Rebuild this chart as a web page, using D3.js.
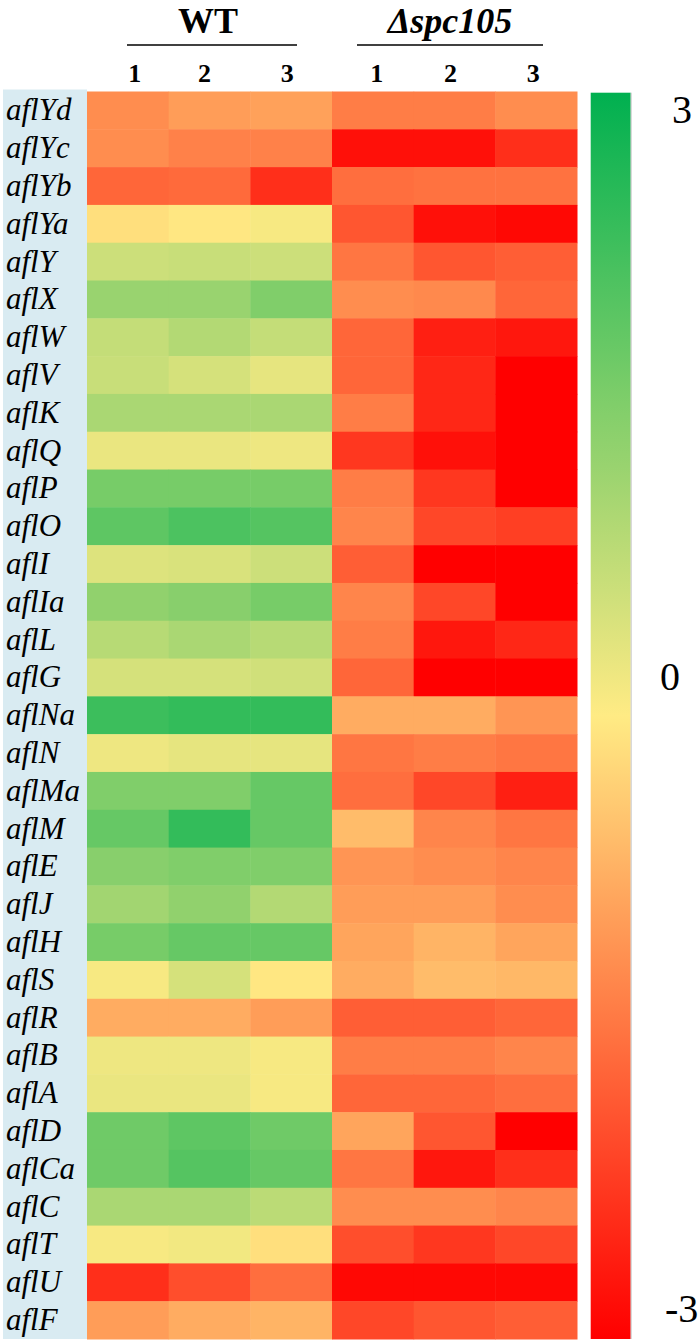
<!DOCTYPE html>
<html>
<head>
<meta charset="utf-8">
<script src="https://cdn.jsdelivr.net/npm/d3@7"></script>
<style>
  html, body { margin: 0; padding: 0; background: #fff; }
  svg { display: block; }
</style>
</head>
<body>
<script>
// ---------- data ----------
const genes = ["aflYd","aflYc","aflYb","aflYa","aflY","aflX","aflW","aflV","aflK","aflQ","aflP","aflO","aflI","aflIa","aflL","aflG","aflNa","aflN","aflMa","aflM","aflE","aflJ","aflH","aflS","aflR","aflB","aflA","aflD","aflCa","aflC","aflT","aflU","aflF"];
const columns = ["WT-1","WT-2","WT-3","spc-1","spc-2","spc-3"];
const columnLabels = ["1","2","3","1","2","3"];
const groups = ["WT","Δspc105"];
const wt1  = [-1.2,-1.2,-1.7,-0.15,0.6,1.2,0.7,0.65,1.0,0.25,1.6,1.9,0.4,1.3,0.85,0.5,2.3,0.2,1.5,1.8,1.4,1.1,1.6,0.1,-0.8,0.2,0.25,1.7,1.7,1.0,0.1,-2.4,-1.0];
const wt2  = [-1.0,-1.35,-1.65,-0.05,0.65,1.2,0.9,0.5,1.0,0.25,1.6,2.1,0.45,1.4,1.0,0.5,2.4,0.3,1.5,2.4,1.5,1.3,1.8,0.5,-0.8,0.2,0.25,1.9,2.0,1.0,0.15,-2.0,-0.8];
const wt3  = [-0.95,-1.35,-2.4,0.1,0.6,1.5,0.7,0.3,1.0,0.2,1.6,2.0,0.6,1.6,0.85,0.55,2.4,0.3,1.8,1.8,1.5,0.9,1.8,-0.05,-1.0,0.1,0.1,1.7,1.8,0.8,-0.15,-1.6,-0.7];
const spc1 = [-1.4,-2.8,-1.6,-1.9,-1.5,-1.2,-1.7,-1.7,-1.4,-2.3,-1.4,-1.3,-1.8,-1.3,-1.4,-1.7,-0.8,-1.5,-1.6,-0.6,-1.1,-1.0,-0.9,-0.8,-1.8,-1.4,-1.7,-0.9,-1.5,-1.2,-2.0,-2.9,-2.1];
const spc2 = [-1.4,-2.8,-1.55,-2.8,-1.9,-1.25,-2.6,-2.5,-2.5,-2.8,-2.3,-2.1,-3.0,-2.1,-2.7,-3.0,-0.8,-1.4,-2.1,-1.3,-1.2,-1.0,-0.7,-0.6,-1.8,-1.4,-1.7,-1.9,-2.7,-1.2,-2.3,-2.9,-1.9];
const spc3 = [-1.2,-2.4,-1.55,-2.9,-1.8,-1.7,-2.7,-3.0,-3.0,-3.0,-3.0,-2.2,-3.0,-3.0,-2.5,-3.0,-1.1,-1.5,-2.6,-1.5,-1.3,-1.2,-0.9,-0.65,-1.7,-1.3,-1.6,-3.0,-2.4,-1.3,-2.1,-2.9,-1.8];
const series = [wt1, wt2, wt3, spc1, spc2, spc3];
const legendTicks = [3, 0, -3];
const colorDomain = [-3, 0, 3];
const colorRange = ["#ff0000", "#ffeb84", "#00b050"];

// ---------- layout ----------
const W = 700, H = 1343;
const svg = d3.select("body").append("svg").attr("width", W).attr("height", H);

const serif = "'Liberation Serif','Times New Roman',serif";
const gridTop = 91.5, gridBot = 1339;
const x = d3.scaleBand().domain(columns).range([87, 577]).padding(0);
const y = d3.scaleBand().domain(genes).range([gridTop, gridBot]).padding(0);
const color = d3.scaleLinear().domain(colorDomain).range(colorRange).interpolate(d3.interpolateRgb).clamp(true);

// label background
svg.append("rect").attr("x", 3).attr("y", gridTop - 2).attr("width", 84).attr("height", gridBot - gridTop + 2)
  .attr("fill", "#d9ebf2");

// cells
const cells = [];
genes.forEach((g, i) => columns.forEach((c, j) => cells.push({ gene: g, col: c, v: series[j][i] })));
svg.append("g").selectAll("rect").data(cells).join("rect")
  .attr("x", d => x(d.col))
  .attr("y", d => y(d.gene))
  .attr("width", x.bandwidth() + 0.5)
  .attr("height", y.bandwidth() + 0.5)
  .attr("fill", d => color(d.v));

// row labels
svg.append("g").selectAll("text").data(genes).join("text")
  .attr("x", 6)
  .attr("y", d => y(d) + y.bandwidth() / 2 + 10)
  .attr("font-family", serif).attr("font-style", "italic").attr("font-size", 31)
  .attr("fill", "#000")
  .text(d => d);

// column numbers
const numShift = [7, -5, -4, 4, -4, -3];
svg.append("g").selectAll("text").data(columns).join("text")
  .attr("x", (d, i) => x(d) + x.bandwidth() / 2 + numShift[i])
  .attr("y", 82)
  .attr("text-anchor", "middle")
  .attr("font-family", serif).attr("font-weight", "bold").attr("font-size", 26)
  .attr("fill", "#000")
  .text((d, i) => columnLabels[i]);

// group headers and lines
const groupSpans = [[127, 297], [357, 543]];
groups.forEach((g, k) => {
  const [a, b] = groupSpans[k];
  svg.append("line").attr("x1", a).attr("x2", b).attr("y1", 45).attr("y2", 45)
    .attr("stroke", "#000").attr("stroke-width", 1.5);
  svg.append("text")
    .attr("x", (a + b) / 2 + (k === 0 ? -4 : 0)).attr("y", 33)
    .attr("text-anchor", "middle")
    .attr("font-family", serif).attr("font-weight", "bold")
    .attr("font-style", k === 1 ? "italic" : "normal")
    .attr("font-size", 36).attr("fill", "#000")
    .text(g);
});

// colour bar
const lgTop = 92.7, lgBot = 1339, lgX = 590.7, lgW = 40;
const ly = d3.scaleLinear().domain([3, -3]).range([lgTop, lgBot]);
const defs = svg.append("defs");
const grad = defs.append("linearGradient").attr("id", "lg").attr("x1", 0).attr("y1", 0).attr("x2", 0).attr("y2", 1);
d3.range(0, 1.0001, 0.05).forEach(t => {
  grad.append("stop").attr("offset", t).attr("stop-color", color(3 - 6 * t));
});
svg.append("rect").attr("x", lgX).attr("y", lgTop).attr("width", lgW).attr("height", lgBot - lgTop)
  .attr("fill", "url(#lg)");
svg.append("line").attr("x1", lgX + lgW + 0.5).attr("x2", lgX + lgW + 0.5).attr("y1", lgTop).attr("y2", lgBot)
  .attr("stroke", "#c8c8c8").attr("stroke-width", 1);

const tickPos = { "3": [672, ly(3) + 30], "0": [660, ly(0) - 26], "-3": [665, ly(-3) - 17] };
svg.append("g").selectAll("text").data(legendTicks).join("text")
  .attr("x", d => tickPos[String(d)][0])
  .attr("y", d => tickPos[String(d)][1])
  .attr("font-family", serif).attr("font-size", 40).attr("fill", "#000")
  .text(d => String(d));
</script>
</body>
</html>
